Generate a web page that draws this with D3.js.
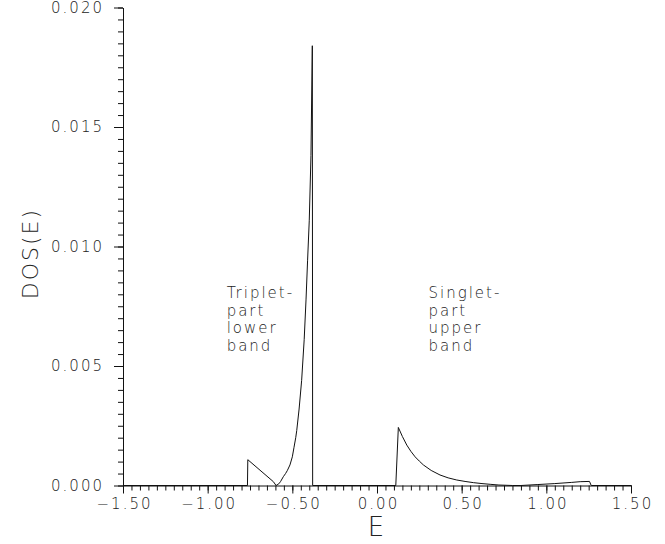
<!DOCTYPE html>
<html>
<head>
<meta charset="utf-8">
<script src="https://cdn.jsdelivr.net/npm/d3@7"></script>
<style>
  body { margin: 0; background: #fff; }
  svg text { font-family: "DejaVu Sans", sans-serif; font-weight: 200; fill: #222; }
</style>
</head>
<body>
<svg id="chart" width="665" height="544"></svg>
<script>
// energy grid and density of states
const energy = [-1.50, -0.765, -0.763, -0.612, -0.596, -0.58, -0.57, -0.553, -0.54, -0.53, -0.514, -0.50,
  -0.49, -0.48, -0.474, -0.46, -0.445, -0.43, -0.419, -0.41, -0.40, -0.39, -0.382, -0.380,
  0.111, 0.126, 0.15, 0.176, 0.20, 0.225, 0.25, 0.274, 0.32, 0.372, 0.42, 0.471, 0.52, 0.569,
  0.62, 0.668, 0.72, 0.80, 0.85, 0.95, 1.05, 1.15, 1.20, 1.255, 1.265, 1.50];
const dos = [0, 0, 0.00108, 0.00016, 0, 0.00007, 0.00016, 0.00037, 0.0005, 0.00062, 0.00086, 0.0012,
  0.0016, 0.0020, 0.0023, 0.0032, 0.0044, 0.0061, 0.0078, 0.0094, 0.0111, 0.0138, 0.0184, 0,
  0, 0.00243, 0.00205, 0.00169, 0.00143, 0.0012, 0.00102, 0.00086, 0.00063, 0.00044, 0.00032, 0.00023, 0.00017, 0.00012,
  0.00008, 0.00005, 0.00002, 0, 0, 0.00004, 0.00008, 0.00013, 0.00016, 0.00017, 0, 0];

const xMajor = [-1.5, -1.0, -0.5, 0, 0.5, 1.0, 1.5];
const yMajor = [0, 0.005, 0.010, 0.015, 0.020];
const notes = [
  { e: -0.888, lines: ["Triplet-", "part", "lower", "band"] },
  { e: 0.304, lines: ["Singlet-", "part", "upper", "band"] }
];

const svg = d3.select('#chart');

const x = d3.scaleLinear().domain([-1.5, 1.5]).range([123, 631]);
const y = d3.scaleLinear().domain([0, 0.02]).range([485.5, 7.5]);

// minor ticks
svg.append('g')
    .attr('transform', `translate(0,${y(0)})`)
    .call(d3.axisBottom(x).tickValues(d3.range(-1.5, 1.5001, 0.05)).tickSize(5).tickFormat(''))
    .call(g => g.select('.domain').remove());

svg.append('g')
    .attr('transform', `translate(${x(-1.5)},0)`)
    .call(d3.axisLeft(y).tickValues(d3.range(0, 0.02001, 0.0005)).tickSize(5).tickFormat(''))
    .call(g => g.select('.domain').remove());

// major ticks + labels
svg.append('g')
    .attr('transform', `translate(0,${y(0)})`)
    .call(d3.axisBottom(x).tickValues(xMajor).tickSize(8).tickSizeOuter(0).tickPadding(5).tickFormat(d3.format('.2f')))
    .call(g => g.selectAll('text').attr('font-size', 15).attr('letter-spacing', 2).attr('dx', 1));

svg.append('g')
    .attr('transform', `translate(${x(-1.5)},0)`)
    .call(d3.axisLeft(y).tickValues(yMajor).tickSize(9).tickSizeOuter(0).tickPadding(12).tickFormat(d3.format('.3f')))
    .call(g => g.selectAll('text').attr('font-size', 15).attr('letter-spacing', 2).attr('dx', 2));

svg.selectAll('.tick line, .domain').attr('stroke', '#111').attr('stroke-width', 1);

// DOS curve
const line = d3.line()
    .x((d, i) => x(energy[i]))
    .y(d => y(d));

svg.append('path')
    .datum(dos)
    .attr('fill', 'none')
    .attr('stroke', '#111')
    .attr('stroke-width', 1)
    .attr('d', line);

// axis titles
svg.append('text')
    .attr('x', x(0) - 1)
    .attr('y', 536)
    .attr('text-anchor', 'middle')
    .attr('font-size', 26)
    .text('E');

svg.append('text')
    .attr('transform', `translate(38,${y(0.0097)}) rotate(-90)`)
    .attr('text-anchor', 'middle')
    .attr('font-size', 22)
    .attr('letter-spacing', 2)
    .text('DOS(E)');

// band annotations
notes.forEach(n => {
    svg.append('g')
        .selectAll('text')
        .data(n.lines)
        .join('text')
            .attr('x', x(n.e))
            .attr('y', (d, i) => 298 + i * 17.5)
            .attr('font-size', 15)
            .attr('letter-spacing', 2)
            .text(d => d);
});
</script>
</body>
</html>
